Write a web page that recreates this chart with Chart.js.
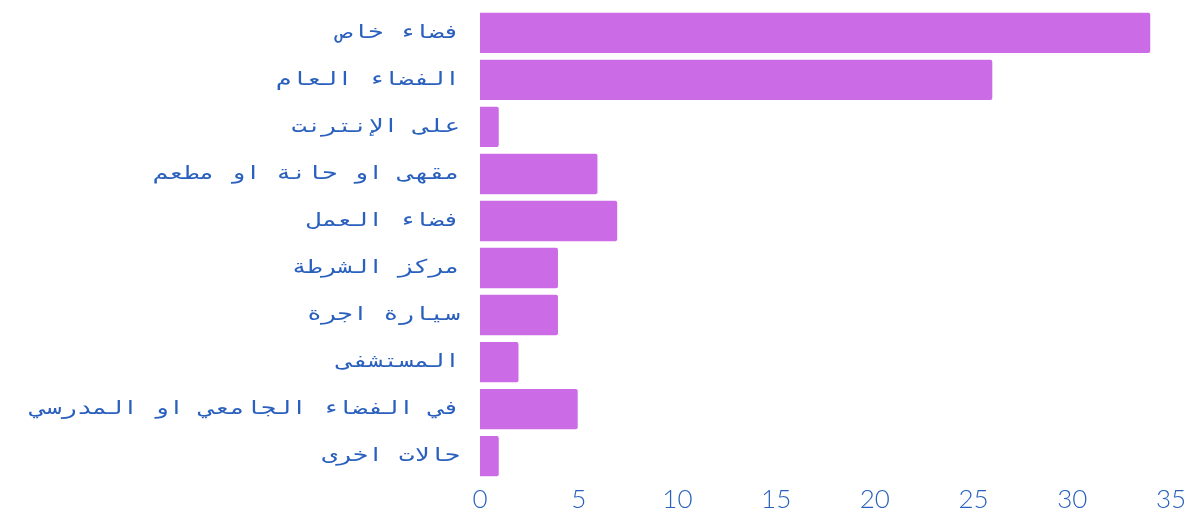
<!DOCTYPE html>
<html>
<head>
<meta charset="utf-8">
<script src="https://cdn.jsdelivr.net/npm/chart.js@4"></script>
<style>
  html, body { margin: 0; padding: 0; background: #fff; }
  #wrap { width: 1193px; height: 517px; overflow: hidden; }
  #inner { width: 1193px; height: 533px; margin-top: -22px; }
</style>
</head>
<body>
<div id="wrap"><div id="inner"><canvas id="placesChart"></canvas></div></div>
<script>
// Places where incidents happened
const categories = [
    'فضاء خاص',
    'الفضاء العام',
    'على الإنترنت',
    'مقهى او حانة او مطعم',
    'فضاء العمل',
    'مركز الشرطة',
    'سيارة اجرة',
    'المستشفى',
    'في الفضاء الجامعي او المدرسي',
    'حالات اخرى'
];
const counts = [34, 26, 1, 6, 7, 4, 4, 2, 5, 1];
const tickValues = [0, 5, 10, 15, 20, 25, 30, 35];

const textColor = '#2a60bd';
const barColor = '#cb6ce6';
const axisWidth = 480;      // left edge of the plot area
const labelGap = 20;        // gap between category labels and bars
const labelStretch = 1.34;  // the labels are drawn wide (monospace, stretched)

function resetTransform(chart) {
    const r = chart.currentDevicePixelRatio || 1;
    chart.ctx.setTransform(r, 0, 0, r, 0, 0);
}

// the colour callbacks run right before each axis draws its labels,
// so they are used to set a horizontal stretch for the y labels only
function stretchedColor(context) {
    const chart = context.chart;
    const r = chart.currentDevicePixelRatio || 1;
    const anchor = axisWidth - labelGap;
    chart.ctx.setTransform(r * labelStretch, 0, 0, r, r * anchor * (1 - labelStretch), 0);
    return textColor;
}
function plainColor(context) {
    resetTransform(context.chart);
    return textColor;
}

const transformReset = {
    id: 'transformReset',
    beforeDatasetsDraw: resetTransform,
    afterDraw: resetTransform
};

const ctx = document.getElementById('placesChart').getContext('2d');
new Chart(ctx, {
    type: 'bar',
    data: {
        labels: categories,
        datasets: [{
            data: counts,
            backgroundColor: barColor,
            borderColor: 'rgba(255, 255, 255, 0.6)',
            borderWidth: 1,
            borderRadius: 3,
            borderSkipped: 'start',
            categoryPercentage: 1,
            barPercentage: 0.9
        }]
    },
    plugins: [transformReset],
    options: {
        indexAxis: 'y',
        responsive: true,
        maintainAspectRatio: false,
        animation: false,
        layout: { padding: { top: -12, right: 22, bottom: -6, left: 0 } },
        plugins: {
            legend: { display: false },
            tooltip: { enabled: false }
        },
        scales: {
            x: {
                min: tickValues[0],
                max: tickValues[tickValues.length - 1],
                grid: { display: false },
                border: { display: false },
                afterBuildTicks: function(axis) {
                    axis.ticks = tickValues.map(v => ({ value: v }));
                },
                ticks: {
                    color: plainColor,
                    padding: -4,
                    font: { family: 'Lato', size: 26, weight: '300' }
                }
            },
            y: {
                grid: { display: false, drawTicks: false },
                border: { display: false },
                afterFit: function(axis) {
                    axis.width = axisWidth;
                },
                ticks: {
                    color: stretchedColor,
                    padding: labelGap,
                    font: { family: 'DejaVu Sans Mono', size: 19 }
                }
            }
        }
    }
});
</script>
</body>
</html>
